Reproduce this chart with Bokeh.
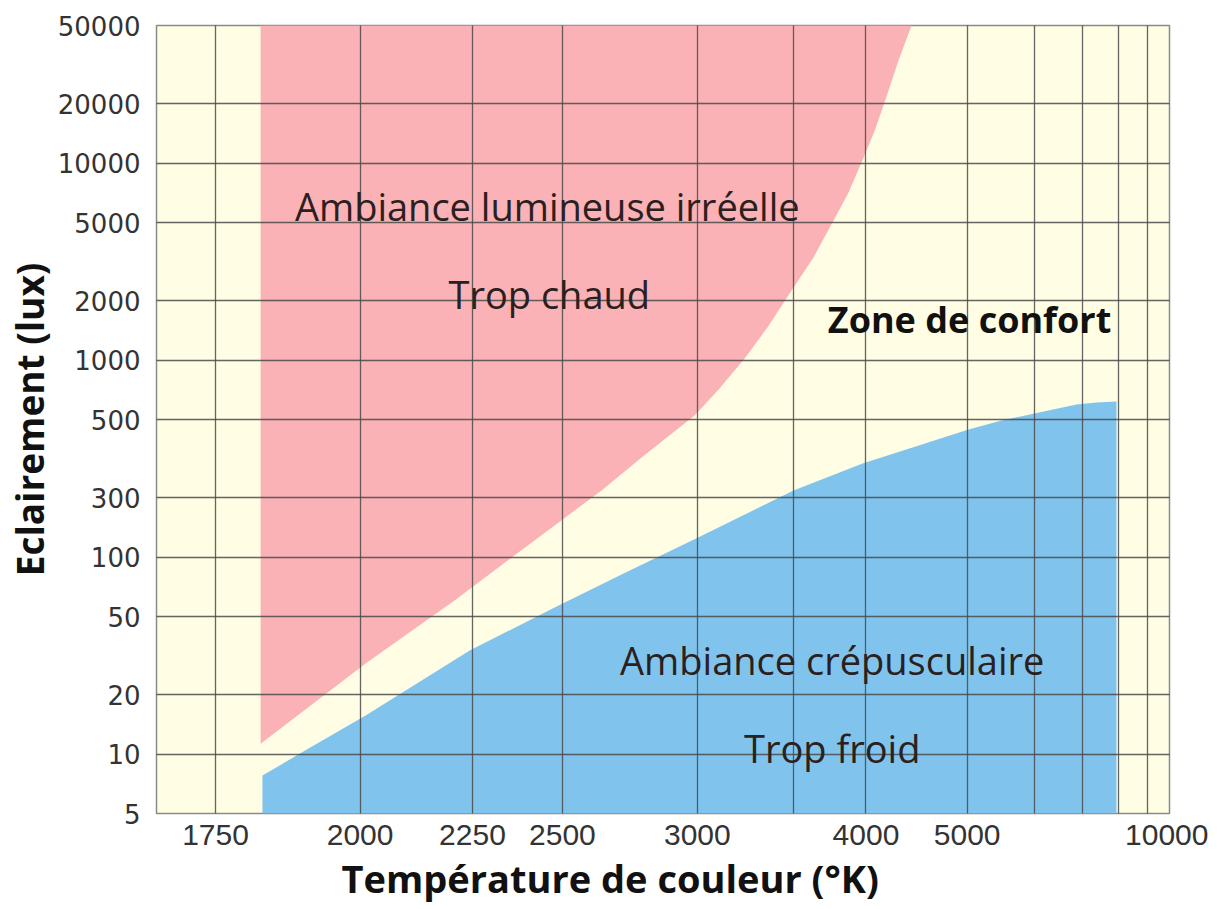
import numpy as np
from bokeh.plotting import figure
from bokeh.models import Range1d, FixedTicker, CustomJSTickFormatter, Label, Title
from bokeh.embed import file_html
from bokeh.resources import INLINE

# ---------------- data ----------------
# lower boundary of the "too warm" (red) zone : colour temperature (K) / illuminance (lux)
warm_T = [1821, 2011, 2206, 2476, 2627, 2771, 2988, 3102, 3226, 3348, 3475, 3624,
          3759, 3867, 3965, 4068, 4161, 4275, 4396]
warm_lux = [11.3, 28.9, 60.3, 145, 218, 321, 524, 718, 1020, 1466, 2181, 3322,
            5118, 7101, 10083, 14484, 21051, 33214, 50000]
# upper boundary of the "too cold" (blue) zone
cool_T = [1824, 1844, 1903, 2011, 2243, 2476, 2697, 2992, 3499, 3973, 5018, 5464,
          5999, 6850, 7348, 7924]
cool_lux = [7.8, 8.46, 10.7, 15.7, 33.6, 55.5, 81.7, 124, 218, 299, 445, 494,
            536, 596, 610, 617]

x_tick_T = [1750, 2000, 2250, 2500, 3000, 4000, 5000, 10000]
x_grid_T = [1750, 2000, 2250, 2500, 3000, 3500, 4000, 5000, 6000, 7000, 8000, 9000, 10000]
y_tick_values = [5, 10, 20, 50, 100, 200, 500, 1000, 2000, 5000, 10000, 20000, 50000]
y_tick_labels = ["5", "10", "20", "50", "100", "300", "500", "1000", "2000",
                 "5000", "10000", "20000", "50000"]

zone_texts = ["Ambiance lumineuse irréelle", "Trop chaud", "Zone de confort",
              "Ambiance crépusculaire", "Trop froid"]
zone_T = [2454, 2460, 5030, 3750, 3750]
zone_lux = [6070, 2180, 1607, 30.2, 10.7]
zone_bold = [False, False, True, False, False]

T_MIN, T_MAX = 1665, 10000
LUX_MIN, LUX_MAX = 5, 50000

# ---------------- colours ----------------
CREAM = "#FFFDE3"
PINK = "#FAB2B6"
BLUE = "#80C4EE"


def mired(t):
    """Colour temperature drawn on a reciprocal (mired) scale."""
    return 1e6 / np.asarray(t, dtype=float)


p = figure(
    frame_width=1013, frame_height=788,
    x_range=Range1d(float(mired(T_MIN)), float(mired(T_MAX))),
    y_range=Range1d(LUX_MIN, LUX_MAX),
    y_axis_type="log",
    output_backend="svg", toolbar_location=None,
    min_border_left=155, min_border_top=25, min_border_right=39, min_border_bottom=80,
)
p.background_fill_color = CREAM
p.border_fill_color = "white"
p.outline_line_color = "#8a8a8a"
p.outline_line_width = 1.5

# red zone (too warm)
px = np.concatenate([[mired(warm_T[0])], mired(warm_T)])
py = np.concatenate([[LUX_MAX], warm_lux])
p.patch(px, py, fill_color=PINK, line_color=None)

# blue zone (too cold)
bx = np.concatenate([[mired(cool_T[0])], mired(cool_T), [mired(cool_T[-1])]])
by = np.concatenate([[LUX_MIN], cool_lux, [LUX_MIN]])
p.patch(bx, by, fill_color=BLUE, line_color=None)

# grid
p.xgrid.ticker = FixedTicker(ticks=list(mired(x_grid_T)))
p.ygrid.ticker = FixedTicker(ticks=y_tick_values)
for g in (p.xgrid, p.ygrid):
    g.grid_line_color = "#4a4a4a"
    g.grid_line_width = 1.3
    g.grid_line_alpha = 0.85
    g.level = "guide"
p.ygrid.minor_grid_line_color = None

# x axis
p.xaxis.ticker = FixedTicker(ticks=list(mired(x_tick_T)))
p.xaxis.formatter = CustomJSTickFormatter(code="return String(Math.round(1000000 / tick));")
p.xaxis.major_label_standoff = 5
p.add_layout(Title(text="Température de couleur (°K)", align="left", offset=185,
                   text_font="Open Sans", text_font_style="bold",
                   text_font_size="38px", text_color="#111111", standoff=4), "below")

# y axis
p.yaxis.ticker = FixedTicker(ticks=y_tick_values)
p.yaxis.formatter = CustomJSTickFormatter(
    args=dict(vals=y_tick_values, labs=y_tick_labels),
    code="const i = vals.findIndex(v => Math.abs(v - tick) < 1e-6 * v); return i >= 0 ? labs[i] : String(tick);",
)
p.yaxis.axis_label = "Eclairement (lux)"
p.yaxis.major_label_standoff = 10
p.yaxis.axis_label_standoff = 0
p.yaxis.axis_label_text_font = "Open Sans"
p.yaxis.axis_label_text_font_style = "bold"
p.yaxis.axis_label_text_font_size = "37px"
p.yaxis.axis_label_text_color = "#111111"

for ax in (p.xaxis, p.yaxis):
    ax.axis_line_color = None
    ax.major_tick_line_color = None
    ax.minor_tick_line_color = None
    ax.major_label_text_color = "#333333"

p.xaxis.major_label_text_font = "Liberation Sans"
p.xaxis.major_label_text_font_size = "30px"
p.yaxis.major_label_text_font = "DejaVu Sans"
p.yaxis.major_label_text_font_size = "26px"

# zone texts
for txt, t, lx, bold in zip(zone_texts, zone_T, zone_lux, zone_bold):
    p.add_layout(Label(
        x=float(mired(t)), y=lx, text=txt,
        text_align="center", text_baseline="alphabetic",
        text_font="Open Sans",
        text_font_style="bold" if bold else "normal",
        text_font_size="36px" if bold else "38px",
        text_color="#111111" if bold else "#2b2020",
    ))

open("out.html", "w").write(file_html(p, INLINE))
